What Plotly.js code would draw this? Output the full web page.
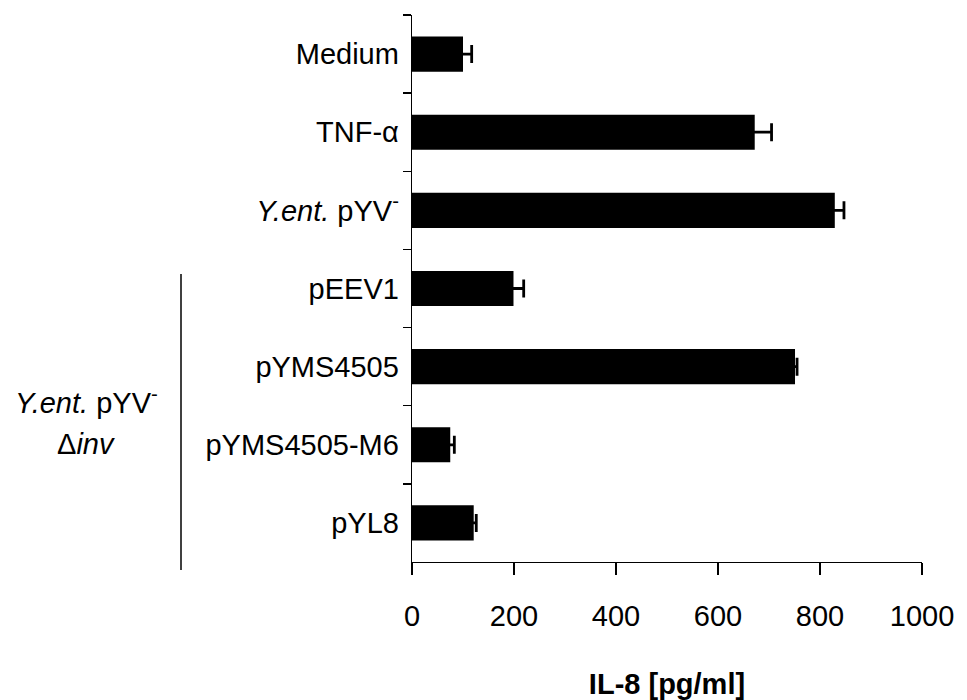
<!DOCTYPE html>
<html>
<head>
<meta charset="utf-8">
<script src="https://cdn.plot.ly/plotly-3.0.1.min.js"></script>
<style>html,body{margin:0;padding:0;background:#fff;}#chart{width:967px;height:700px;}</style>
</head>
<body>
<div id="chart"></div>
<script>
// Data
var categories = ["Medium", "TNF-&#945;", "<i>Y.ent.</i> pYV<sup>-</sup>", "pEEV1", "pYMS4505", "pYMS4505-M6", "pYL8"];
var values = [100, 672, 829, 199, 751, 75, 121];
var errors = [17, 33, 18, 20, 4, 8, 5];
var xTickVals = [0, 200, 400, 600, 800, 1000];
var xTitle = "<b>IL-8 [pg/ml]</b>";
var groupLine1 = "<i>Y.ent.</i> pYV<sup>-</sup>";
var groupLine2 = "&#916;<i>inv</i>";

var FONT = "Arial, 'Liberation Sans', sans-serif";
var FS = 29;

var trace = {
  type: "bar",
  orientation: "h",
  y: categories,
  x: values,
  marker: {color: "#000000", line: {width: 0}},
  error_x: {
    type: "data",
    array: errors,
    arrayminus: errors,
    symmetric: false,
    color: "#000000",
    thickness: 2.8,
    width: 9
  },
  hoverinfo: "x+y"
};

var layout = {
  width: 967,
  height: 700,
  margin: {l: 412, r: 45, t: 15, b: 138, pad: 0},
  paper_bgcolor: "#ffffff",
  plot_bgcolor: "#ffffff",
  showlegend: false,
  bargap: 0.55,
  font: {family: FONT, size: FS, color: "#000000"},
  xaxis: {
    range: [0, 1000],
    tickvals: xTickVals,
    ticktext: xTickVals.map(String),
    showgrid: false,
    zeroline: false,
    showline: true,
    linecolor: "#000000",
    linewidth: 1.3,
    ticks: "outside",
    ticklen: 12,
    tickwidth: 1.3,
    tickcolor: "#000000",
    ticklabelstandoff: 16,
    tickfont: {family: FONT, size: FS, color: "#000000"},
    title: {text: xTitle, font: {family: FONT, size: FS, color: "#000000"}, standoff: 44},
    automargin: false,
    fixedrange: true
  },
  yaxis: {
    type: "category",
    autorange: "reversed",
    showgrid: false,
    zeroline: false,
    showline: true,
    linecolor: "#000000",
    linewidth: 1.3,
    ticks: "outside",
    tickson: "boundaries",
    ticklen: 8,
    tickwidth: 1.3,
    tickcolor: "#000000",
    ticklabelstandoff: 6,
    tickfont: {family: FONT, size: FS, color: "#000000"},
    automargin: false,
    fixedrange: true
  },
  shapes: [{
    type: "line",
    xref: "paper", yref: "paper",
    x0: (181 - 412) / 510, x1: (181 - 412) / 510,
    y0: (562 - 274) / 547, y1: (562 - 570) / 547,
    line: {color: "#000000", width: 1.5}
  }],
  annotations: [
    {
      text: groupLine1, xref: "paper", yref: "paper",
      x: (86 - 412) / 510, y: (562 - 401) / 547,
      xanchor: "center", yanchor: "middle", showarrow: false,
      font: {family: FONT, size: FS, color: "#000000"}
    },
    {
      text: groupLine2, xref: "paper", yref: "paper",
      x: (86 - 412) / 510, y: (562 - 444) / 547,
      xanchor: "center", yanchor: "middle", showarrow: false,
      font: {family: FONT, size: FS, color: "#000000"}
    }
  ]
};

Plotly.newPlot("chart", [trace], layout, {displayModeBar: false, staticPlot: true});
</script>
</body>
</html>
